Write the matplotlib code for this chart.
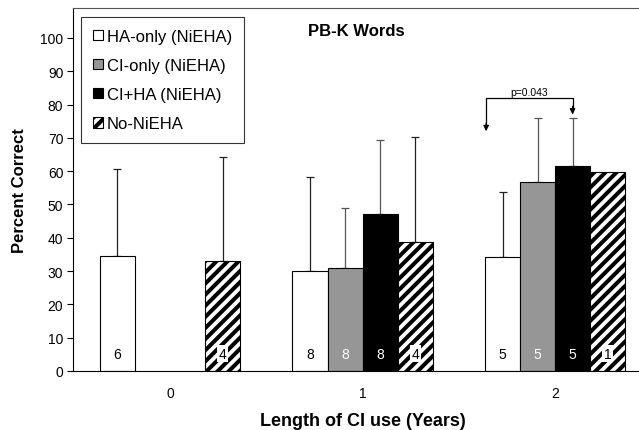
import numpy as np
import matplotlib
matplotlib.use('Agg')
import matplotlib.pyplot as plt
from matplotlib.patches import Patch

plt.rcParams['font.family'] = ['Liberation Sans', 'DejaVu Sans']
plt.rcParams['hatch.linewidth'] = 2.9

# years of CI use
years = ['0', '1', '2']
series = ['HA-only (NiEHA)', 'CI-only (NiEHA)', 'CI+HA (NiEHA)', 'No-NiEHA']

# mean percent correct per group (nan = no subjects)
ha_only = [34.6, 29.9, 34.3]
ci_only = [np.nan, 31.0, 56.8]
ci_ha = [np.nan, 47.1, 61.6]
no_niehA = [32.9, 38.8, 59.9]

# upper end of the error bars
ha_only_top = [60.6, 58.3, 53.8]
ci_only_top = [np.nan, 48.8, 76.1]
ci_ha_top = [np.nan, 69.4, 76.1]
no_niehA_top = [64.3, 70.2, np.nan]

# number of subjects
ha_only_n = [6, 8, 5]
ci_only_n = [None, 8, 5]
ci_ha_n = [None, 8, 5]
no_niehA_n = [4, 4, 1]

means = [ha_only, ci_only, ci_ha, no_niehA]
tops = [ha_only_top, ci_only_top, ci_ha_top, no_niehA_top]
counts = [ha_only_n, ci_only_n, ci_ha_n, no_niehA_n]

faces = ['white', '#969696', 'black', 'white']
hatches = [None, None, None, '///']
n_colors = ['black', 'white', 'white', 'black']
err_colors = ['#222222', '#555555', '#555555', '#222222']

fig = plt.figure(figsize=(6.39, 4.31), dpi=100)
ax = fig.add_axes([73 / 639, 1 - 372 / 431, 1 - 73 / 639, (372 - 9) / 431])

x = np.arange(len(years))
w = 0.182
offsets = np.array([-1.5, -0.5, 0.5, 1.5]) * w

for i in range(4):
    xs = x + offsets[i]
    vals = np.array(means[i], dtype=float)
    ok = ~np.isnan(vals)
    ax.bar(xs[ok], vals[ok], width=w, color=faces[i], edgecolor='black',
           linewidth=0.8, hatch=hatches[i], zorder=2)
    t = np.array(tops[i], dtype=float)
    e_ok = ok & ~np.isnan(t)
    ax.errorbar(xs[e_ok], vals[e_ok], yerr=[np.zeros(e_ok.sum()), (t - vals)[e_ok]],
                fmt='none', ecolor=err_colors[i], elinewidth=0.9, capsize=3,
                capthick=0.9, zorder=1)
    for j in range(len(years)):
        if counts[i][j] is None:
            continue
        if hatches[i]:
            ax.text(xs[j], 5.2, str(counts[i][j]), ha='center', va='center',
                    fontsize=10, color='black', zorder=4,
                    bbox=dict(facecolor='white', edgecolor='none', pad=1.2))
        else:
            ax.text(xs[j], 5.2, str(counts[i][j]), ha='center', va='center',
                    fontsize=10, color=n_colors[i], zorder=4)

ax.set_xlim(-0.504, 2.436)
ax.set_ylim(0, 109)
ax.set_yticks(np.arange(0, 101, 10))
ax.set_xticks(x)
ax.set_xticklabels(years)
ax.tick_params(axis='x', length=0, pad=11, labelsize=10)
ax.tick_params(axis='y', length=4, width=0.8, labelsize=10, pad=3)
ax.spines['right'].set_visible(False)
for s in ['left', 'top', 'bottom']:
    ax.spines[s].set_linewidth(0.8)
ax.spines['top'].set_color('#555555')

ax.set_ylabel('Percent Correct', fontsize=12, fontweight='bold')
ax.yaxis.set_label_coords(-46 / 566, 0.5)
ax.set_xlabel('Length of CI use (Years)', fontsize=13, fontweight='bold')
ax.xaxis.set_label_coords((1 + 0.504) / (2.436 + 0.504), -41 / 363)
ax.text(0.97, 102.3, 'PB-K Words', ha='center', va='center', fontsize=12,
        fontweight='bold')

# significance bracket between HA-only and CI+HA at 2 years
xl = 2 + offsets[0] - 0.085
xr = 2 + offsets[2]
yb = 82.0
ax.plot([xl, xl, xr, xr], [73.5, yb, yb, 79], color='black', lw=0.9, zorder=3)
ax.annotate('', xy=(xl, 72.0), xytext=(xl, 74.5),
            arrowprops=dict(arrowstyle='-|>', color='black', lw=0.9,
                            mutation_scale=8, shrinkA=0, shrinkB=0))
ax.annotate('', xy=(xr, 77.0), xytext=(xr, 79.5),
            arrowprops=dict(arrowstyle='-|>', color='black', lw=0.9,
                            mutation_scale=8, shrinkA=0, shrinkB=0))
ax.text((xl + xr) / 2, 82.4, 'p=0.043', ha='center', va='bottom', fontsize=7.5)

handles = [Patch(facecolor=faces[i], edgecolor='black', linewidth=0.8,
                 hatch=hatches[i]) for i in range(4)]
leg = ax.legend(handles, series, loc='upper left', bbox_to_anchor=(8 / 566, 1 - 9 / 363),
                fontsize=12, frameon=True, fancybox=False, edgecolor='black',
                handlelength=0.6, handleheight=0.6, handletextpad=0.25,
                labelspacing=0.85, borderpad=0.7, borderaxespad=0)
leg.get_frame().set_linewidth(0.8)

fig.savefig('out.png', dpi=100)
